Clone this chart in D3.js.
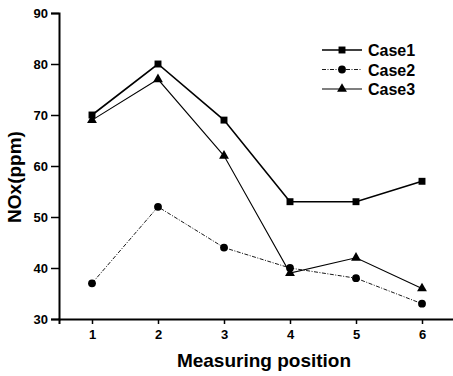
<!DOCTYPE html>
<html>
<head>
<meta charset="utf-8">
<script src="https://cdn.jsdelivr.net/npm/d3@7"></script>
<style>
  body { margin: 0; background: #fff; }
  text { font-family: "Liberation Sans", Arial, sans-serif; font-weight: bold; fill: #000; }
</style>
</head>
<body>
<svg class="nox" width="453" height="376"></svg>
<script>
var positions = [1, 2, 3, 4, 5, 6];
var case1 = [70, 80, 69, 53, 53, 57];
var case2 = [37, 52, 44, 40, 38, 33];
var case3 = [69, 77, 62, 39, 42, 36];
var seriesNames = ["Case1", "Case2", "Case3"];
var yTicks = [30, 40, 50, 60, 70, 80, 90];

(function noxChart() {
    var svg = d3.select("svg.nox");

    var x = d3.scaleLinear().domain([0.5, 6.5]).range([59, 455]);
    var y = d3.scaleLinear().domain([30, 90]).range([319, 13]);

    // axes
    var xAxis = svg.append("g")
        .attr("transform", "translate(0,319)")
        .call(d3.axisBottom(x).tickValues(positions).tickFormat(d3.format("d")).tickSize(5).tickPadding(6));
    var yAxis = svg.append("g")
        .attr("transform", "translate(59,0)")
        .call(d3.axisLeft(y).tickValues(yTicks).tickSize(8).tickPadding(3));

    [xAxis, yAxis].forEach(function(a) {
        a.select(".domain").attr("stroke-width", 2);
        a.selectAll(".tick line").attr("stroke-width", 1.5);
        a.selectAll("text").style("font-size", "13px").style("font-weight", "bold");
    });

    svg.append("text")
        .attr("x", 264)
        .attr("y", 367)
        .attr("text-anchor", "middle")
        .style("font-size", "19px")
        .text("Measuring position");

    svg.append("text")
        .attr("transform", "translate(21,177) rotate(-90)")
        .attr("text-anchor", "middle")
        .style("font-size", "19px")
        .text("NOx(ppm)");

    var series = [
        {name: seriesNames[0], values: case1, width: 1.6, dash: null, symbol: d3.symbolSquare, size: 48},
        {name: seriesNames[1], values: case2, width: 0.9, dash: "4,1.5,1,1.5", symbol: d3.symbolCircle, size: 48},
        {name: seriesNames[2], values: case3, width: 1.1, dash: null, symbol: d3.symbolTriangle, size: 42}
    ];

    var line = d3.line()
        .x(function(d, i) { return x(positions[i]); })
        .y(function(d) { return y(d); });

    series.forEach(function(s) {
        svg.append("path")
            .datum(s.values)
            .attr("fill", "none")
            .attr("stroke", "#000")
            .attr("stroke-width", s.width)
            .attr("stroke-dasharray", s.dash)
            .attr("d", line);

        svg.append("g").selectAll("path")
            .data(s.values)
            .enter().append("path")
            .attr("transform", function(d, i) { return "translate(" + x(positions[i]) + "," + y(d) + ")"; })
            .attr("d", d3.symbol().type(s.symbol).size(s.size))
            .attr("fill", "#000");
    });

    // legend
    var legend = svg.append("g").attr("transform", "translate(322,50)");
    series.forEach(function(s, i) {
        var row = legend.append("g").attr("transform", "translate(0," + (i * 19.5) + ")");
        row.append("line")
            .attr("x1", 0).attr("x2", 40)
            .attr("stroke", "#000")
            .attr("stroke-width", s.width)
            .attr("stroke-dasharray", s.dash);
        row.append("path")
            .attr("transform", "translate(20,0)")
            .attr("d", d3.symbol().type(s.symbol).size(s.size))
            .attr("fill", "#000");
        row.append("text")
            .attr("x", 46)
            .attr("y", 6)
            .style("font-size", "16px")
            .text(s.name);
    });
})();
</script>
</body>
</html>
